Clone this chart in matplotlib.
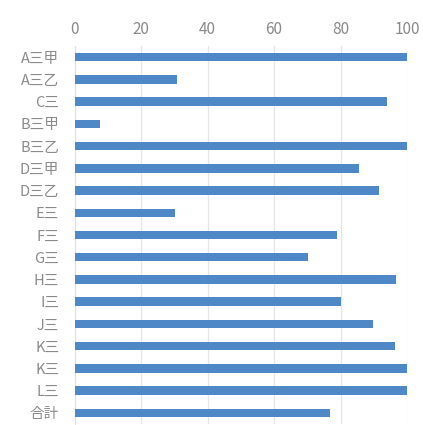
import matplotlib
matplotlib.use("Agg")
import matplotlib.pyplot as plt

plt.rcParams['font.family'] = ['Noto Sans CJK JP', 'DejaVu Sans']

categories = ["A三甲", "A三乙", "C三", "B三甲", "B三乙", "D三甲", "D三乙", "E三", "F三",
              "G三", "H三", "I三", "J三", "K三", "K三", "L三", "合計"]
values = [100, 30.8, 93.9, 7.7, 100, 85.6, 91.6, 30.2, 78.9, 70.2, 96.6, 80.2, 89.7,
          96.3, 100, 100, 76.8]
xticks = [0, 20, 40, 60, 80, 100]

fig = plt.figure(figsize=(4.23, 4.25), dpi=100)
ax = fig.add_axes([74.5/423, 1 - 424/425, (407 - 74.5)/423, (424 - 46)/425])

y = list(range(len(categories)))
ax.barh(y, values, height=0.38, color="#4f88c6", zorder=3)
ax.set_ylim(len(categories) - 0.5, -0.5)
ax.set_xlim(0, 100)
ax.set_xticks(xticks)
ax.xaxis.tick_top()
ax.set_yticks(y)
ax.set_yticklabels(categories)
ax.tick_params(axis='x', length=0, pad=6, labelsize=11, labelcolor="#8a8a8a")
ax.tick_params(axis='y', length=0, pad=11, labelsize=10.5, labelcolor="#8a8a8a")
ax.grid(axis='x', color="#e6e6e6", linewidth=0.9, zorder=0)
for s in ["top", "right", "bottom"]:
    ax.spines[s].set_visible(False)
ax.spines["left"].set_color("#e0e0e0")

fig.savefig("out.png", dpi=100)
